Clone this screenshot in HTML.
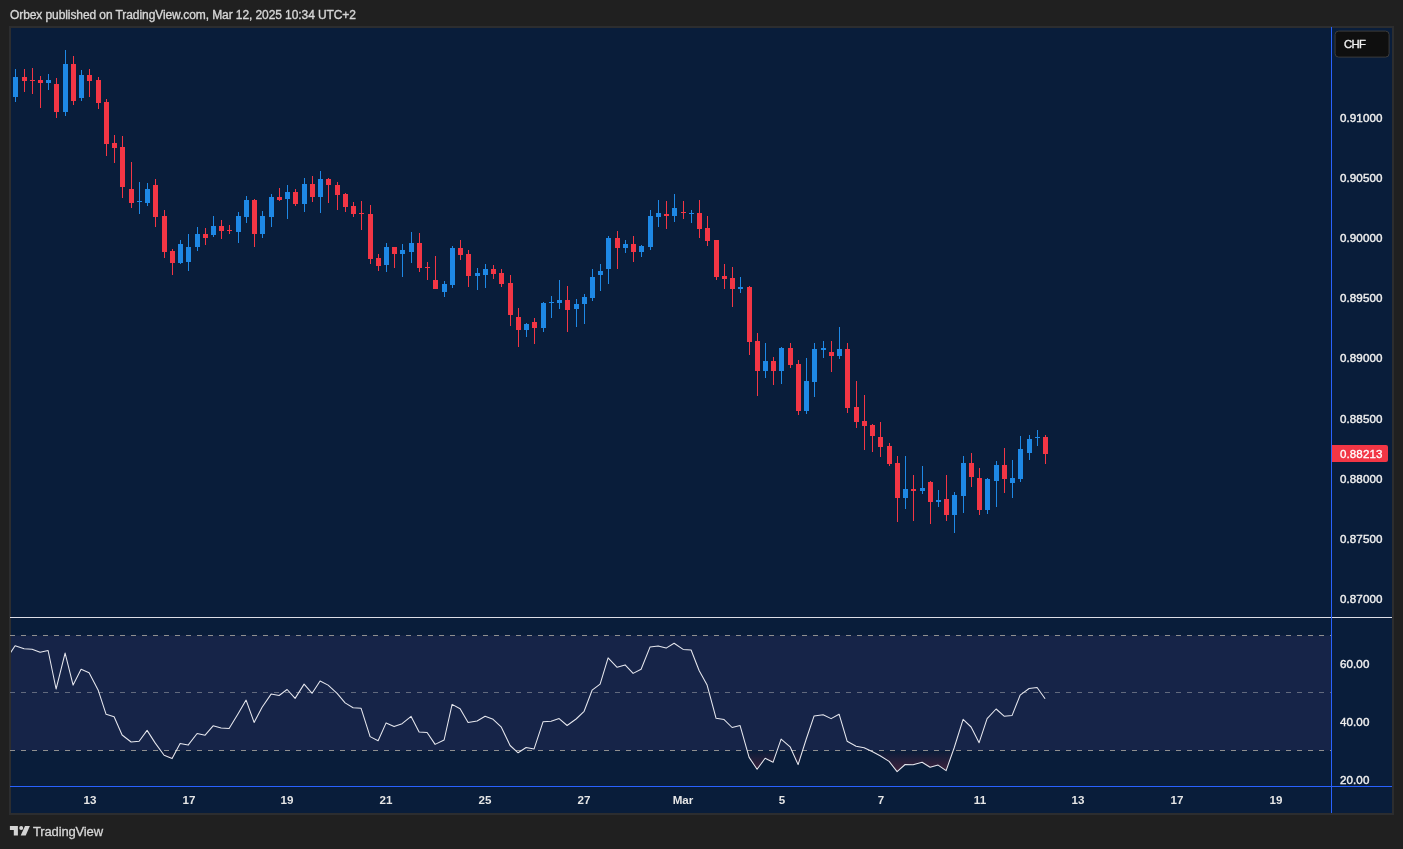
<!DOCTYPE html>
<html><head><meta charset="utf-8"><title>chart</title>
<style>
html,body{margin:0;padding:0;}
.hdr,.pl,.tl,.logo,.chft{will-change:transform;}
body{width:1403px;height:849px;background:#202020;overflow:hidden;position:relative;font-family:"Liberation Sans",sans-serif;}
.hdr{position:absolute;left:10px;top:7px;font-size:12px;line-height:16px;color:#d6d6d6;white-space:nowrap;letter-spacing:-0.085px;-webkit-text-stroke:0.35px #d6d6d6;}
.frame{position:absolute;left:9px;top:26px;width:1381px;height:785px;border:2px solid #2c2d2f;background:#091d3a;}
svg{position:absolute;left:0;top:0;}
.pl{position:absolute;left:1340px;font-size:11.6px;line-height:14px;height:14px;color:#efefef;white-space:nowrap;letter-spacing:0.08px;-webkit-text-stroke:0.4px #efefef;}
.tl{position:absolute;top:792.6px;width:60px;margin-left:-29.9px;text-align:center;font-size:11.6px;line-height:14px;height:14px;color:#e6e6e6;font-weight:bold;white-space:nowrap;}
.cur{position:absolute;left:1332px;top:445px;width:56px;height:17px;background:#f23645;border-radius:0 2px 2px 0;}
.chf{position:absolute;left:1334px;top:30px;width:53px;height:25px;transform:translate(0.6px,0.6px);border:1px solid #3c3c3c;border-radius:4px;background:#0f0f0f;box-sizing:content-box;}
.chft{position:absolute;left:1344.0px;top:37.15px;font-size:11.3px;line-height:14px;color:#f0f0f0;letter-spacing:-0.7px;white-space:nowrap;-webkit-text-stroke:0.35px #f0f0f0;}
.logo{position:absolute;left:33px;top:822.7px;font-size:13px;line-height:18px;color:#d6d6d6;letter-spacing:-0.15px;white-space:nowrap;-webkit-text-stroke:0.3px #d6d6d6;}
</style></head><body>
<div class="hdr">Orbex published on TradingView.com, Mar 12, 2025 10:34 UTC+2</div>
<div class="frame"></div>
<svg width="1403" height="849" viewBox="0 0 1403 849">
<defs><linearGradient id="os" gradientUnits="userSpaceOnUse" x1="0" y1="750" x2="0" y2="775"><stop offset="0" stop-color="#f23645" stop-opacity="0"/><stop offset="1" stop-color="#f23645" stop-opacity="0.28"/></linearGradient>
<clipPath id="cp"><rect x="11" y="618" width="1320" height="168"/></clipPath></defs>
<rect x="11" y="635.5" width="1320" height="115" fill="#162448"/>
<g shape-rendering="crispEdges">

<rect x="10" y="617" width="1382" height="1" fill="#dcdde6"/>
<rect x="10" y="786" width="1382" height="1" fill="#2962ff"/>
<rect x="1331" y="27" width="1" height="786" fill="#2962ff"/>
<path fill="#1e88e5" d="M15 69h1v33h-1zM13 77h5v20h-5zM48 74h1v16h-1zM46 80h5v3h-5zM65 50h1v66h-1zM63 64h5v48h-5zM81 70h1v31h-1zM79 75h5v23h-5zM139 182h1v32h-1zM137 201h5v1h-5zM147 183h1v23h-1zM145 189h5v14h-5zM180 240h1v24h-1zM178 244h5v19h-5zM188 234h1v37h-1zM186 247h5v15h-5zM197 227h1v24h-1zM195 234h5v13h-5zM213 216h1v21h-1zM211 226h5v9h-5zM238 212h1v31h-1zM236 216h5v16h-5zM246 196h1v27h-1zM244 200h5v17h-5zM262 211h1v27h-1zM260 216h5v18h-5zM271 194h1v33h-1zM269 197h5v20h-5zM287 185h1v34h-1zM285 192h5v7h-5zM304 178h1v34h-1zM302 184h5v20h-5zM320 171h1v42h-1zM318 179h5v18h-5zM386 243h1v29h-1zM384 247h5v18h-5zM402 244h1v33h-1zM400 250h5v4h-5zM411 232h1v31h-1zM409 243h5v9h-5zM444 281h1v16h-1zM442 284h5v8h-5zM452 246h1v42h-1zM450 248h5v37h-5zM477 268h1v22h-1zM475 273h5v3h-5zM485 264h1v24h-1zM483 269h5v6h-5zM526 323h1v14h-1zM524 324h5v6h-5zM543 302h1v30h-1zM541 303h5v25h-5zM551 296h1v22h-1zM549 302h5v1h-5zM559 280h1v29h-1zM557 300h5v3h-5zM576 299h1v28h-1zM574 304h5v5h-5zM584 294h1v30h-1zM582 297h5v7h-5zM592 269h1v32h-1zM590 277h5v21h-5zM600 264h1v27h-1zM598 271h5v4h-5zM608 236h1v48h-1zM606 238h5v31h-5zM625 240h1v13h-1zM623 244h5v4h-5zM641 245h1v12h-1zM639 246h5v6h-5zM650 210h1v40h-1zM648 216h5v31h-5zM658 200h1v27h-1zM656 213h5v4h-5zM674 194h1v28h-1zM672 208h5v8h-5zM691 210h1v13h-1zM689 213h5v1h-5zM740 277h1v16h-1zM738 287h5v2h-5zM765 343h1v35h-1zM763 361h5v10h-5zM781 347h1v37h-1zM779 348h5v23h-5zM806 358h1v56h-1zM804 381h5v30h-5zM814 343h1v54h-1zM812 349h5v33h-5zM823 341h1v17h-1zM821 348h5v2h-5zM839 327h1v32h-1zM837 349h5v7h-5zM905 456h1v53h-1zM903 489h5v9h-5zM922 466h1v28h-1zM920 488h5v3h-5zM938 490h1v17h-1zM936 500h5v2h-5zM954 492h1v41h-1zM952 495h5v20h-5zM963 456h1v57h-1zM961 463h5v33h-5zM987 478h1v36h-1zM985 479h5v31h-5zM996 461h1v46h-1zM994 465h5v16h-5zM1012 460h1v38h-1zM1010 478h5v5h-5zM1020 436h1v46h-1zM1018 449h5v30h-5zM1029 435h1v25h-1zM1027 439h5v14h-5zM1037 430h1v16h-1zM1035 437h5v1h-5z"/>
<path fill="#f23645" d="M24 69h1v23h-1zM22 77h5v4h-5zM32 68h1v26h-1zM30 80h5v1h-5zM40 76h1v32h-1zM38 80h5v3h-5zM56 78h1v40h-1zM54 84h5v28h-5zM73 56h1v49h-1zM71 64h5v37h-5zM89 69h1v28h-1zM87 75h5v6h-5zM98 77h1v32h-1zM96 80h5v23h-5zM106 99h1v57h-1zM104 102h5v42h-5zM114 135h1v28h-1zM112 143h5v5h-5zM122 136h1v62h-1zM120 147h5v40h-5zM131 162h1v46h-1zM129 189h5v14h-5zM155 179h1v48h-1zM153 185h5v32h-5zM164 210h1v48h-1zM162 216h5v36h-5zM172 249h1v26h-1zM170 251h5v12h-5zM205 228h1v17h-1zM203 234h5v4h-5zM221 220h1v19h-1zM219 226h5v5h-5zM229 225h1v9h-1zM227 230h5v1h-5zM254 199h1v48h-1zM252 200h5v34h-5zM279 188h1v13h-1zM277 197h5v3h-5zM295 189h1v17h-1zM293 192h5v12h-5zM312 176h1v26h-1zM310 184h5v13h-5zM328 178h1v25h-1zM326 179h5v6h-5zM337 182h1v28h-1zM335 185h5v10h-5zM345 193h1v19h-1zM343 194h5v13h-5zM353 202h1v15h-1zM351 206h5v8h-5zM361 201h1v29h-1zM359 213h5v1h-5zM370 205h1v59h-1zM368 214h5v45h-5zM378 254h1v17h-1zM376 258h5v8h-5zM394 247h1v21h-1zM392 247h5v7h-5zM419 233h1v39h-1zM417 243h5v25h-5zM427 262h1v18h-1zM425 267h5v1h-5zM435 256h1v33h-1zM433 280h5v9h-5zM460 240h1v20h-1zM458 248h5v7h-5zM468 250h1v37h-1zM466 254h5v22h-5zM493 265h1v14h-1zM491 269h5v5h-5zM501 269h1v18h-1zM499 273h5v11h-5zM510 275h1v51h-1zM508 283h5v32h-5zM518 308h1v39h-1zM516 317h5v13h-5zM534 318h1v26h-1zM532 322h5v6h-5zM567 286h1v46h-1zM565 300h5v10h-5zM617 231h1v38h-1zM615 238h5v10h-5zM633 236h1v26h-1zM631 244h5v8h-5zM666 201h1v28h-1zM664 214h5v2h-5zM683 201h1v18h-1zM681 212h5v1h-5zM699 200h1v38h-1zM697 213h5v16h-5zM707 216h1v30h-1zM705 228h5v13h-5zM716 240h1v40h-1zM714 240h5v37h-5zM724 264h1v25h-1zM722 276h5v3h-5zM732 267h1v40h-1zM730 278h5v11h-5zM749 286h1v69h-1zM747 287h5v55h-5zM757 333h1v63h-1zM755 341h5v30h-5zM773 357h1v28h-1zM771 361h5v10h-5zM790 343h1v25h-1zM788 348h5v17h-5zM798 360h1v55h-1zM796 364h5v47h-5zM831 341h1v31h-1zM829 352h5v4h-5zM847 343h1v70h-1zM845 349h5v59h-5zM856 381h1v47h-1zM854 407h5v15h-5zM864 395h1v55h-1zM862 421h5v5h-5zM872 424h1v28h-1zM870 425h5v11h-5zM880 422h1v35h-1zM878 437h5v10h-5zM889 443h1v23h-1zM887 446h5v18h-5zM897 456h1v66h-1zM895 463h5v35h-5zM913 475h1v46h-1zM911 489h5v2h-5zM930 481h1v43h-1zM928 482h5v20h-5zM946 475h1v46h-1zM944 499h5v16h-5zM971 453h1v34h-1zM969 463h5v14h-5zM979 468h1v47h-1zM977 478h5v32h-5zM1004 448h1v45h-1zM1002 465h5v14h-5zM1045 435h1v29h-1zM1043 437h5v17h-5z"/>
</g>
<g fill="none" stroke-width="1" stroke-dasharray="5 6" shape-rendering="crispEdges">
<path d="M10 635.5H1331M10 750.5H1331" stroke="#8f8f8f"/>
<path d="M10 692.5H1331" stroke="#626a7e"/>
</g>
<g clip-path="url(#cp)"><polygon fill="url(#os)" points="160.7,750.5 164.1,755.2 172.1,758.6 176.4,750.5"/><polygon fill="url(#os)" points="515.6,750.5 518.1,752.8 521.6,750.5"/><polygon fill="url(#os)" points="747.1,750.5 749.1,757.4 757.1,769.2 765.1,758.3 773.1,762.2 777.2,750.5"/><polygon fill="url(#os)" points="791.8,750.5 798.1,764.6 802.6,750.5"/><polygon fill="url(#os)" points="870.0,750.5 872.1,751.5 880.1,755.7 889.1,761.4 897.1,771.6 905.1,764.5 913.1,764.8 922.1,762.2 930.1,767.2 938.1,765.1 946.1,770.6 953.2,750.5"/>
<polyline fill="none" stroke="#e6e7ee" stroke-width="1.05" stroke-linejoin="round" points="6.9,658.4 15.1,645.7 24.1,648.8 32.1,649.2 40.1,652.2 48.1,650.5 56.1,689.0 65.1,653.1 73.1,685.1 81.1,669.3 89.1,672.8 98.1,689.9 106.1,714.3 114.1,716.7 122.1,735.0 131.1,742.0 139.1,741.2 147.1,730.4 155.1,742.9 164.1,755.2 172.1,758.6 180.1,743.4 188.1,745.1 197.1,733.5 205.1,735.2 213.1,725.8 221.1,728.0 229.1,728.5 238.1,713.8 246.1,700.1 254.1,722.4 262.1,707.3 271.1,694.1 279.1,695.5 287.1,689.5 295.1,698.4 304.1,684.1 312.1,693.3 320.1,681.0 328.1,685.1 337.1,693.3 345.1,702.9 353.1,707.8 361.1,708.3 370.1,736.6 378.1,740.8 386.1,722.9 394.1,726.6 402.1,723.7 411.1,716.4 419.1,732.1 427.1,732.5 435.1,744.4 444.1,740.0 452.1,704.4 460.1,708.7 468.1,722.5 477.1,721.0 485.1,716.2 493.1,719.3 501.1,726.8 510.1,745.5 518.1,752.8 526.1,747.5 534.1,748.9 543.1,721.7 551.1,721.2 559.1,718.6 567.1,725.5 576.1,719.0 584.1,711.3 592.1,690.2 600.1,684.1 608.1,657.9 617.1,667.3 625.1,664.9 633.1,673.4 641.1,669.3 650.1,646.9 658.1,645.9 666.1,648.1 674.1,643.3 683.1,649.4 691.1,650.0 699.1,670.5 707.1,685.1 716.1,718.3 724.1,719.6 732.1,727.5 740.1,725.6 749.1,757.4 757.1,769.2 765.1,758.3 773.1,762.2 781.1,739.1 790.1,746.8 798.1,764.6 806.1,739.5 814.1,715.9 823.1,714.7 831.1,718.6 839.1,714.2 847.1,741.2 856.1,746.3 864.1,747.7 872.1,751.5 880.1,755.7 889.1,761.4 897.1,771.6 905.1,764.5 913.1,764.8 922.1,762.2 930.1,767.2 938.1,765.1 946.1,770.6 954.1,748.0 963.1,719.3 971.1,727.0 979.1,742.7 987.1,718.6 996.1,709.0 1004.1,716.2 1012.1,715.4 1020.1,695.2 1029.1,688.5 1037.1,687.5 1045.1,698.8"/></g>
<g fill="#d4d4d4"><path d="M9.9 826.1h8v9.5h-4.1v-5.7h-3.9z"/><circle cx="21.2" cy="828" r="2"/><path d="M25 826.1h4.9l-4.2 9.5h-5z"/></g>
</svg>
<div class="pl" style="top:110.55px">0.91000</div>
<div class="pl" style="top:170.75px">0.90500</div>
<div class="pl" style="top:230.95px">0.90000</div>
<div class="pl" style="top:291.25px">0.89500</div>
<div class="pl" style="top:351.45px">0.89000</div>
<div class="pl" style="top:411.75px">0.88500</div>
<div class="pl" style="top:471.95px">0.88000</div>
<div class="pl" style="top:532.15px">0.87500</div>
<div class="pl" style="top:592.45px">0.87000</div>
<div class="pl" style="top:656.75px">60.00</div>
<div class="pl" style="top:714.65px">40.00</div>
<div class="pl" style="top:772.65px">20.00</div>
<div class="tl" style="left:89.5px">13</div>
<div class="tl" style="left:188.5px">17</div>
<div class="tl" style="left:287.3px">19</div>
<div class="tl" style="left:386.2px">21</div>
<div class="tl" style="left:485px">25</div>
<div class="tl" style="left:584px">27</div>
<div class="tl" style="left:683px">Mar</div>
<div class="tl" style="left:782px">5</div>
<div class="tl" style="left:880.5px">7</div>
<div class="tl" style="left:979.5px">11</div>
<div class="tl" style="left:1078.3px">13</div>
<div class="tl" style="left:1177.2px">17</div>
<div class="tl" style="left:1276px">19</div>
<div class="cur"></div><div class="pl" style="top:446.5px;color:#fff;-webkit-text-stroke:0.3px #fff">0.88213</div>
<div class="chf"></div><div class="chft">CHF</div>
<div class="logo">TradingView</div>
</body></html>
